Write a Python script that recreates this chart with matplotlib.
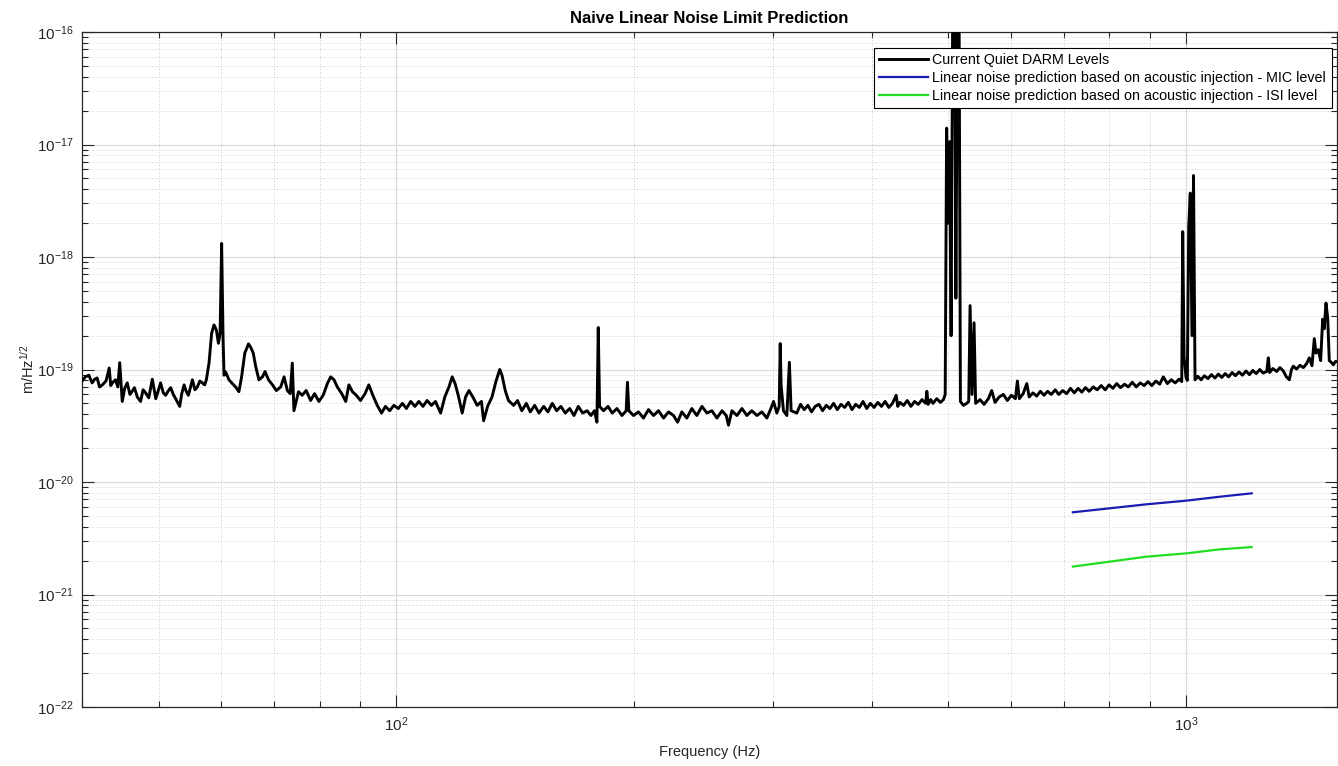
import numpy as np
import matplotlib
matplotlib.use("Agg")
import matplotlib.pyplot as plt
from matplotlib.ticker import LogLocator, NullFormatter, FixedLocator

# ---------------- data ----------------
darm_freq = [
    40.0, 40.4, 40.8, 41.2, 41.5, 41.8, 42.1, 42.45, 42.9, 43.3, 43.5, 43.7, 44.1, 44.4, 44.65,
    44.98, 45.3, 45.64, 46.0, 46.3, 46.6, 47.0, 47.45, 47.8, 48.15, 48.6, 49.1, 49.6, 49.9, 50.3,
    50.7, 51.05, 51.4, 51.8, 52.2, 52.56, 53.18, 53.5, 53.87, 54.2, 54.55, 54.9, 55.19, 55.6, 55.99,
    56.4, 56.81, 57.2, 57.48, 57.93, 58.37, 58.78, 59.19, 59.54, 59.83, 60.1, 60.35, 60.52, 60.8,
    61.4, 62.0, 62.6, 63.2, 63.7, 64.3, 65.0, 65.4, 65.9, 66.4, 67.0, 67.7, 68.2, 68.9, 69.7,
    70.5, 71.4, 72.1, 72.8, 73.4, 73.85, 74.2, 75.2, 76.0, 76.9, 77.9, 78.8, 79.8, 80.8, 81.8,
    82.6, 83.4, 84.2, 85.3, 86.3, 87.1, 88.0, 89.0, 90.1, 91.3, 92.3, 93.4, 94.6, 95.8, 96.9,
    98.1, 99.3, 100.6, 101.8, 103.0, 104.3, 105.6, 106.8, 108.1, 109.4, 110.8, 112.1, 113.8, 115.2,
    116.6, 117.7, 118.7, 119.8, 121.2, 122.4, 123.6, 125.0, 126.6, 128.2, 129.0, 130.5, 132.2,
    133.7, 135.2, 136.1, 137.4, 138.7, 140.8, 142.4, 144.2, 146.1, 147.8, 149.7, 151.6, 153.7,
    155.6, 157.6, 159.6, 161.6, 163.7, 165.8, 167.9, 170.0, 172.2, 174.4, 176.4, 178.2, 179.5,
    180.2, 180.9, 183.0, 185.4, 187.7, 190.3, 193.1, 195.5, 196.2, 197.0, 199.7, 202.6, 205.6,
    208.6, 211.7, 214.8, 218.0, 221.2, 224.4, 227.1, 229.9, 233.3, 236.7, 240.2, 243.8, 247.4,
    251.0, 254.7, 258.5, 261.7, 263.4, 266.1, 270.0, 274.0, 277.9, 282.0, 286.2, 290.4, 294.6,
    298.1, 300.4, 303.3, 305.4, 306.3, 307.1, 309.2, 312.3, 314.6, 316.2,
    321.5, 325.0, 328.5, 332.0, 335.6, 339.2, 342.9, 346.6, 350.3, 354.1, 357.9,
    361.8, 365.7, 369.6, 373.6, 377.6, 381.7, 385.8, 390.0, 394.2, 398.4, 402.7,
    407.1, 411.5, 415.9, 420.4, 424.9, 429.5, 431.5, 434.2, 438.9, 443.6, 448.4,
    453.2, 458.1, 463.1, 468.1, 469.7, 471.5, 475.1, 478.2, 483.4, 488.6, 493.0,
    495.5, 497.6, 499.8, 501.9, 504.1, 506.7, 509.4, 511.2, 513.8, 516.0, 518.0,
    522.5, 527.6, 530.7, 532.8, 535.9, 539.0,
    541.5, 548.5, 555.0, 562.0, 567.5, 573.0, 580.0, 587.0, 594.0, 601.0, 608.0,
    611.6, 615.0, 622.0, 628.6, 633.0, 640.0, 647.0, 654.0, 661.0, 668.0, 675.0,
    683.0, 690.0, 698.0, 706.0, 714.0, 722.0, 730.0, 738.0, 746.0, 754.0, 763.0,
    772.0, 781.0, 790.0, 799.0, 808.0, 817.0, 826.0, 836.0, 845.0, 855.0, 865.0,
    875.0, 885.0, 895.0, 905.0, 916.0, 926.0, 936.0, 947.0, 958.0, 969.0, 980.0,
    987.6, 990.4, 994.3, 1000.0, 1003.8, 1007.9, 1012.5, 1017.6, 1022.1,
    1026.6, 1035.0, 1045.0, 1055.0, 1066.0, 1077.0, 1088.0, 1099.0, 1110.0, 1121.0,
    1132.0, 1144.0, 1155.0, 1167.0, 1179.0, 1191.0, 1203.0, 1215.0, 1227.0, 1240.0,
    1252.0, 1265.3, 1271.2, 1276.0, 1288.0, 1302.6, 1315.0, 1328.0, 1340.0, 1351.5,
    1360.0, 1367.2, 1380.0, 1394.2, 1408.0, 1421.7, 1432.6, 1443.8, 1453.5, 1460.8,
    1470.6, 1480.8, 1489.4, 1496.3, 1503.8, 1511.4, 1518.4, 1527.0, 1536.3, 1546.0,
    1557.4,
]
darm_asd = [
    7.9e-20, 8.6e-20, 8.9e-20, 7.6e-20, 8.2e-20, 8.4e-20, 7.0e-20, 7.3e-20, 7.9e-20, 1.03e-19, 7.2e-20, 7.6e-20, 8.1e-20, 7.0e-20, 1.15e-19,
    5.2e-20, 6.8e-20, 7.6e-20, 6.0e-20, 6.4e-20, 6.9e-20, 5.7e-20, 5.2e-20, 6.6e-20, 6.2e-20, 5.6e-20, 8.2e-20, 5.5e-20, 6.3e-20, 7.6e-20,
    6.2e-20, 5.9e-20, 6.4e-20, 6.9e-20, 6.0e-20, 5.5e-20, 4.7e-20, 6.1e-20, 7.3e-20, 6.4e-20, 5.9e-20, 7.0e-20, 8.1e-20, 6.6e-20, 7.0e-20,
    7.9e-20, 7.6e-20, 7.3e-20, 8.1e-20, 1.14e-19, 2.1e-19, 2.49e-19, 2.24e-19, 1.71e-19, 2.1e-19, 1.32e-18, 1.9e-19, 8.9e-20, 9.5e-20,
    8.1e-20, 7.5e-20, 7.0e-20, 6.35e-20, 8.6e-20, 1.40e-19, 1.69e-19, 1.58e-19, 1.40e-19, 1.05e-19, 8.1e-20, 8.6e-20, 9.6e-20, 8.1e-20, 7.3e-20,
    6.5e-20, 7.0e-20, 8.6e-20, 6.5e-20, 6.1e-20, 1.14e-19, 4.3e-20, 6.35e-20, 5.9e-20, 6.5e-20, 5.3e-20, 6.1e-20, 5.2e-20, 5.9e-20, 7.5e-20,
    8.6e-20, 8.1e-20, 7.0e-20, 6.1e-20, 5.2e-20, 7.3e-20, 6.35e-20, 5.9e-20, 5.3e-20, 6.1e-20, 7.3e-20, 5.9e-20, 4.8e-20, 4.1e-20, 4.7e-20,
    4.3e-20, 4.8e-20, 4.5e-20, 5.0e-20, 4.5e-20, 5.2e-20, 4.7e-20, 5.2e-20, 4.7e-20, 5.3e-20, 4.8e-20, 5.2e-20, 4.1e-20, 5.7e-20,
    7.0e-20, 8.6e-20, 7.5e-20, 5.9e-20, 4.1e-20, 5.7e-20, 6.5e-20, 5.7e-20, 4.8e-20, 5.2e-20, 3.5e-20, 4.7e-20, 5.7e-20,
    7.8e-20, 1.0e-19, 8.9e-20, 6.5e-20, 5.3e-20, 4.8e-20, 5.3e-20, 4.3e-20, 5.0e-20, 4.2e-20, 4.8e-20, 4.1e-20, 4.7e-20,
    4.2e-20, 5.0e-20, 4.3e-20, 4.7e-20, 4.1e-20, 4.5e-20, 3.9e-20, 4.7e-20, 4.1e-20, 4.3e-20, 3.9e-20, 4.3e-20, 3.4e-20,
    2.36e-19, 4.7e-20, 4.3e-20, 4.7e-20, 4.1e-20, 4.5e-20, 3.9e-20, 4.3e-20, 7.7e-20, 4.3e-20, 3.9e-20, 4.2e-20, 3.7e-20,
    4.4e-20, 3.9e-20, 4.3e-20, 3.7e-20, 4.2e-20, 3.9e-20, 3.4e-20, 4.2e-20, 3.7e-20, 4.5e-20, 3.9e-20, 4.7e-20, 4.1e-20,
    4.3e-20, 3.7e-20, 4.3e-20, 3.9e-20, 3.2e-20, 4.3e-20, 3.9e-20, 4.5e-20, 3.9e-20, 4.3e-20, 3.9e-20, 4.2e-20, 3.7e-20,
    4.5e-20, 5.2e-20, 4.1e-20, 4.7e-20, 1.7e-19, 7.3e-20, 4.3e-20, 3.9e-20, 1.16e-19, 4.3e-20,
    4.1e-20, 4.9e-20, 4.4e-20, 4.8e-20, 4.2e-20, 4.7e-20, 4.9e-20, 4.3e-20, 4.8e-20, 4.5e-20, 5.0e-20,
    4.4e-20, 4.9e-20, 4.6e-20, 5.1e-20, 4.4e-20, 4.9e-20, 4.6e-20, 5.2e-20, 4.5e-20, 5.0e-20, 4.6e-20,
    5.1e-20, 4.7e-20, 5.2e-20, 4.6e-20, 5.0e-20, 5.9e-20, 4.7e-20, 5.1e-20, 4.8e-20, 5.3e-20, 4.7e-20,
    5.2e-20, 4.9e-20, 5.4e-20, 5.0e-20, 6.4e-20, 4.9e-20, 5.4e-20, 5.0e-20, 5.5e-20, 5.1e-20, 5.4e-20,
    6.0e-20, 1.4e-17, 2.0e-18, 1.06e-17, 2.0e-19, 3e-16, 2e-16, 4.3e-19, 3e-16, 1.5e-16, 5.2e-20,
    4.8e-20, 5.0e-20, 5.2e-20, 3.7e-19, 6.0e-20, 2.6e-19,
    5.0e-20, 5.4e-20, 4.9e-20, 5.5e-20, 6.5e-20, 5.1e-20, 5.7e-20, 6.0e-20, 5.3e-20, 5.9e-20, 5.5e-20,
    7.9e-20, 5.5e-20, 6.1e-20, 7.5e-20, 5.7e-20, 6.2e-20, 5.8e-20, 6.4e-20, 5.9e-20, 6.4e-20, 6.0e-20,
    6.6e-20, 6.0e-20, 6.5e-20, 6.1e-20, 6.8e-20, 6.2e-20, 6.8e-20, 6.3e-20, 6.9e-20, 6.4e-20, 7.0e-20,
    6.6e-20, 7.2e-20, 6.6e-20, 7.3e-20, 6.8e-20, 7.5e-20, 6.9e-20, 7.4e-20, 7.0e-20, 7.7e-20, 7.0e-20,
    7.6e-20, 7.2e-20, 7.8e-20, 7.2e-20, 7.9e-20, 7.4e-20, 8.6e-20, 7.5e-20, 8.1e-20, 7.6e-20, 8.2e-20,
    7.8e-20, 1.68e-18, 1.3e-19, 8.5e-20, 8.0e-20, 1.86e-18, 3.7e-18, 2.0e-19, 5.3e-18,
    8.1e-20, 8.7e-20, 8.1e-20, 8.8e-20, 8.3e-20, 9.0e-20, 8.4e-20, 9.1e-20, 8.5e-20, 9.2e-20,
    8.6e-20, 9.4e-20, 8.8e-20, 9.5e-20, 8.9e-20, 9.7e-20, 9.0e-20, 9.8e-20, 9.2e-20, 1.0e-19,
    9.3e-20, 9.6e-20, 1.27e-19, 9.4e-20, 1.02e-19, 9.6e-20, 1.04e-19, 9.7e-20, 8.6e-20, 8.1e-20,
    1.0e-19, 1.07e-19, 1.01e-19, 1.09e-19, 1.04e-19, 1.13e-19, 1.27e-19, 1.08e-19, 1.88e-19, 1.4e-19,
    1.5e-19, 1.2e-19, 2.8e-19, 2.3e-19, 3.9e-19, 2.9e-19, 1.2e-19, 1.16e-19, 1.1e-19, 1.18e-19,
    1.17e-19,
]
assert len(darm_freq) == len(darm_asd)

pred_freq = [719, 801, 892, 1000, 1104, 1211]
mic_asd = [5.38e-21, 5.84e-21, 6.34e-21, 6.82e-21, 7.40e-21, 7.93e-21]
isi_asd = [1.77e-21, 1.96e-21, 2.17e-21, 2.32e-21, 2.52e-21, 2.64e-21]

x_major = [100, 1000]
y_major = [1e-22, 1e-21, 1e-20, 1e-19, 1e-18, 1e-17, 1e-16]

labels = [
    "Current Quiet DARM Levels",
    "Linear noise prediction based on acoustic injection - MIC level",
    "Linear noise prediction based on acoustic injection - ISI level",
]
title = "Naive Linear Noise Limit Prediction"
xlabel = "Frequency (Hz)"
ylabel = r"m/Hz$^{1/2}$"

# ---------------- style ----------------
plt.rcParams["font.family"] = ["Liberation Sans", "DejaVu Sans"]
plt.rcParams["mathtext.fontset"] = "custom"
plt.rcParams["mathtext.rm"] = "Liberation Sans"
plt.rcParams["mathtext.it"] = "Liberation Sans:italic"
plt.rcParams["mathtext.bf"] = "Liberation Sans:bold"
plt.rcParams["mathtext.default"] = "regular"

axis_gray = "#262626"

fig = plt.figure(figsize=(13.38, 7.66), dpi=100)
ax = fig.add_axes([82 / 1338, 1 - 707 / 766, (1337 - 82) / 1338, (707 - 32) / 766])

ax.loglog(darm_freq, darm_asd, color="black", lw=2.1, label=labels[0], zorder=3)
ax.loglog(pred_freq, mic_asd, color="#1c1cb4", lw=1.6, label=labels[1], zorder=3)
ax.loglog(pred_freq, isi_asd, color="#22dd22", lw=1.6, label=labels[2], zorder=3)

ax.set_xlim(40, 1553)
ax.set_ylim(1e-22, 1e-16)

ax.xaxis.set_major_locator(FixedLocator(x_major))
ax.yaxis.set_major_locator(FixedLocator(y_major))
ax.xaxis.set_minor_locator(LogLocator(base=10, subs=np.arange(2, 10), numticks=20))
ax.yaxis.set_minor_locator(LogLocator(base=10, subs=np.arange(2, 10), numticks=20))
ax.xaxis.set_minor_formatter(NullFormatter())
ax.yaxis.set_minor_formatter(NullFormatter())

ax.grid(True, which="major", color="#dadada", lw=0.8, ls="-", zorder=0)
ax.grid(True, which="minor", color="#c4c4c4", lw=0.6, ls=(0, (1, 2.2)), zorder=0)
ax.set_axisbelow(True)

ax.tick_params(which="both", direction="in", top=True, right=True,
               colors=axis_gray, labelcolor=axis_gray, labelsize=11, width=0.8)
ax.tick_params(which="major", length=8.8, pad=6)
ax.tick_params(which="minor", length=4.3)
for s in ax.spines.values():
    s.set_color(axis_gray)
    s.set_linewidth(0.9)

ax.set_title(title, fontsize=12, fontweight="bold", color="black", pad=6.5)
ax.set_xlabel(xlabel, fontsize=10.5, color=axis_gray, labelpad=8)
ax.set_ylabel(ylabel, fontsize=10.5, color=axis_gray, labelpad=0)

leg = ax.legend(loc="upper right", bbox_to_anchor=(0.9958, 0.9767), borderaxespad=0,
                fontsize=10.3, handlelength=3.4, handletextpad=0.3, labelspacing=0.25,
                borderpad=0.4, fancybox=False, framealpha=1, edgecolor="black")
leg.get_frame().set_linewidth(0.8)
leg.set_zorder(5)

fig.savefig("out.png", dpi=100)
